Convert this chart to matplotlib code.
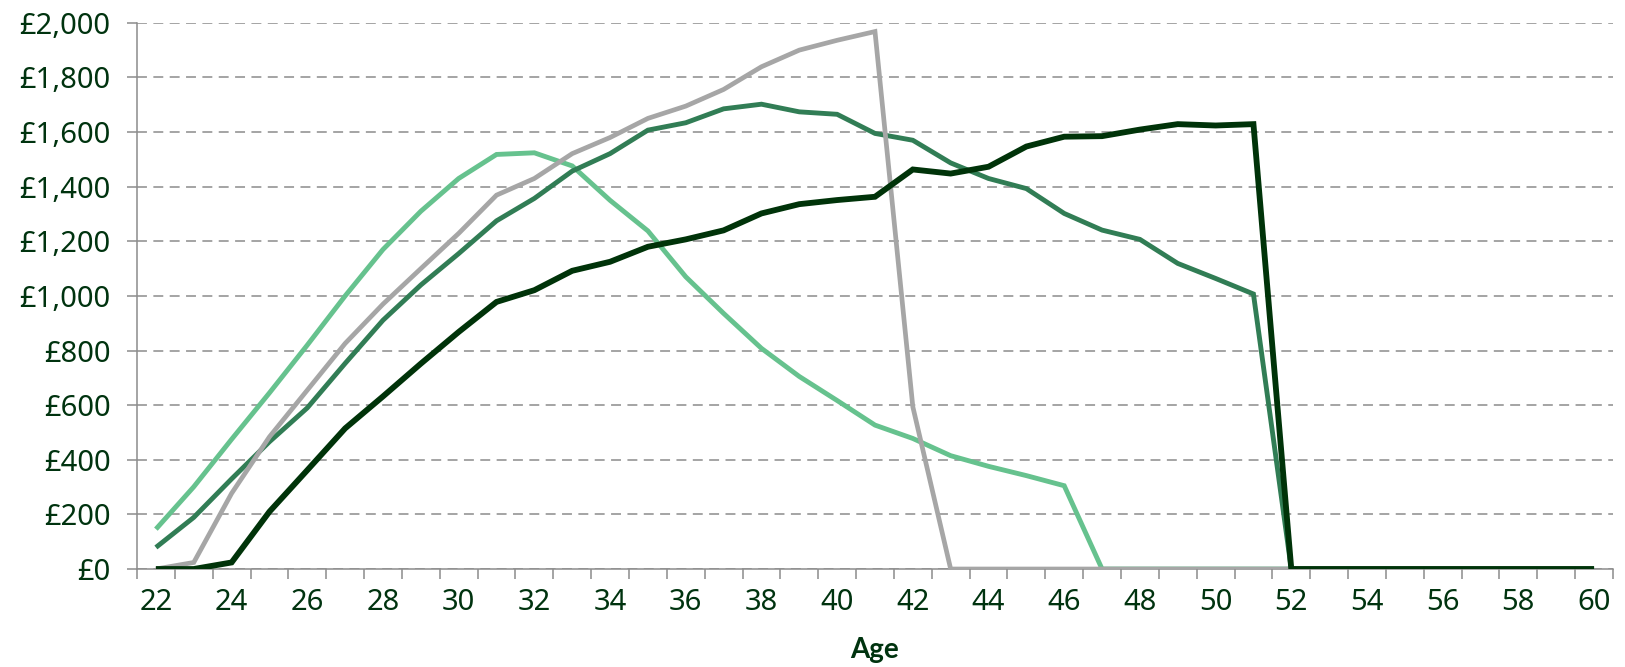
import matplotlib
matplotlib.use("Agg")
import matplotlib.pyplot as plt
import numpy as np

# Weekly amounts by age for four profiles
ages = list(range(22, 61))

light_green = [146, 301, 475, 645, 820, 1000, 1170, 1310, 1430, 1518, 1524, 1476,
               1350, 1238, 1070, 936, 808, 705, 617, 527, 478, 415, 376, 342, 305,
               0, 0, 0, 0, 0, 0, 0, 0, 0, 0, 0, 0, 0, 0]

medium_green = [79, 189, 330, 466, 590, 753, 911, 1040, 1155, 1275, 1357, 1457,
                1521, 1607, 1634, 1685, 1702, 1674, 1665, 1595, 1570, 1487, 1430,
                1393, 1302, 1241, 1207, 1119, 1064, 1007,
                0, 0, 0, 0, 0, 0, 0, 0, 0]

grey = [0, 24, 277, 484, 655, 826, 970, 1100, 1229, 1369, 1430, 1521, 1580,
        1650, 1695, 1756, 1839, 1900, 1936, 1968, 594,
        0, 0, 0, 0, 0, 0, 0, 0, 0, 0, 0, 0, 0, 0, 0, 0, 0, 0]

dark_green = [0, 0, 24, 210, 362, 515, 632, 752, 868, 978, 1021, 1092, 1125,
              1180, 1207, 1240, 1302, 1336, 1351, 1363, 1463, 1448, 1473, 1547,
              1583, 1585, 1609, 1629, 1624, 1629,
              0, 0, 0, 0, 0, 0, 0, 0, 0]

y_ticks = list(range(0, 2001, 200))
x_labels = list(range(22, 61, 2))

text_color = "#00330F"
axis_color = "#8C8C8C"

plt.rcParams["font.family"] = ["Noto Sans", "DejaVu Sans"]

fig = plt.figure(figsize=(16.25, 6.67), dpi=100)
ax = fig.add_axes([0.0843, 0.1469, 0.9083, 0.8189])

series = [
    (light_green, "#66C28E", 3.5),
    (medium_green, "#317D55", 3.5),
    (grey, "#A6A6A6", 3.4),
    (dark_green, "#003309", 4.2),
]
for values, color, lw in series:
    ax.plot(ages, values, color=color, linewidth=lw, solid_joinstyle="miter",
            solid_capstyle="butt", zorder=3)

ax.set_xlim(21.5, 60.5)
ax.set_ylim(0, 2000)

# Category axis: tick marks on boundaries, labels on every other age
ax.set_xticks(np.arange(21.5, 61.0, 1.0))
ax.set_xticklabels([])
ax.set_xticks(x_labels, minor=True)
ax.set_xticklabels([str(a) for a in x_labels], minor=True)
ax.tick_params(axis="x", which="major", length=7, width=1.1, color=axis_color,
               direction="out")
ax.tick_params(axis="x", which="minor", length=0, pad=14, labelsize=21,
               labelcolor=text_color)

ax.set_yticks(y_ticks)
ax.set_yticklabels([f"£{v:,}" for v in y_ticks])
ax.tick_params(axis="y", length=7, width=1.1, color=axis_color, pad=12,
               labelsize=21, labelcolor=text_color)

ax.yaxis.grid(True, color=axis_color, linestyle=(0, (6.5, 4.2)), linewidth=1.1)
ax.set_axisbelow(True)

for side in ("top", "right"):
    ax.spines[side].set_visible(False)
for side in ("left", "bottom"):
    ax.spines[side].set_color(axis_color)
    ax.spines[side].set_linewidth(1.1)

ax.set_xlabel("Age", fontsize=20, fontweight="bold", color=text_color,
              family=["Lato", "DejaVu Sans"], labelpad=14)

fig.savefig("out.png", dpi=100)
